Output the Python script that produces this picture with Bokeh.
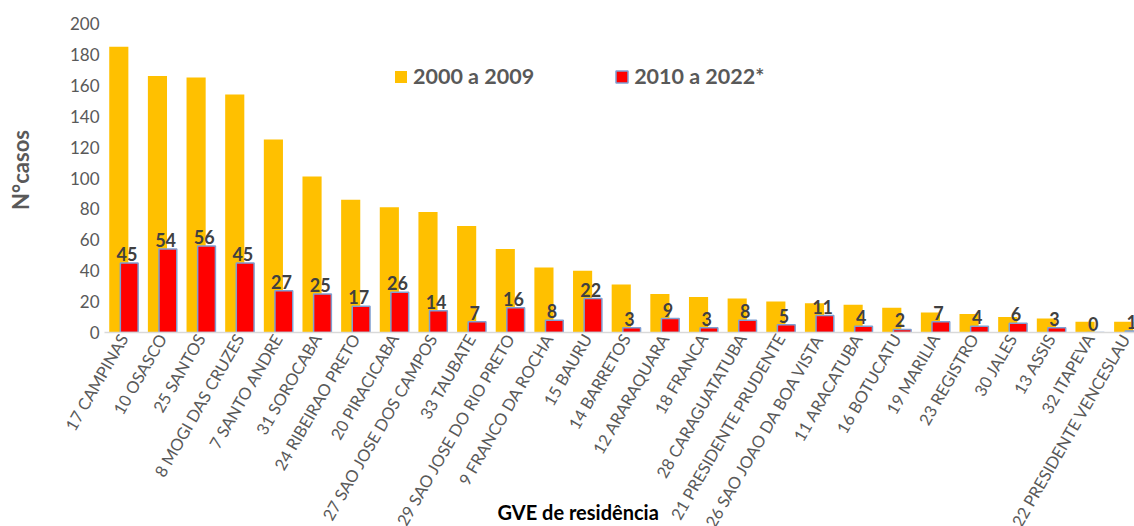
import math
from bokeh.plotting import figure
from bokeh.models import (Range1d, FixedTicker, Legend, LegendItem,
                          ColumnDataSource)
from bokeh.transform import dodge
from bokeh.embed import file_html
from bokeh.resources import INLINE

categories = [
    "17 CAMPINAS", "10 OSASCO", "25 SANTOS", "8 MOGI DAS CRUZES", "7 SANTO ANDRE",
    "31 SOROCABA", "24 RIBEIRAO PRETO", "20 PIRACICABA", "27 SAO JOSE DOS CAMPOS",
    "33 TAUBATE", "29 SAO JOSE DO RIO PRETO", "9 FRANCO DA ROCHA", "15 BAURU",
    "14 BARRETOS", "12 ARARAQUARA", "18 FRANCA", "28 CARAGUATATUBA",
    "21 PRESIDENTE PRUDENTE", "26 SAO JOAO DA BOA VISTA", "11 ARACATUBA",
    "16 BOTUCATU", "19 MARILIA", "23 REGISTRO", "30 JALES", "13 ASSIS",
    "32 ITAPEVA", "22 PRESIDENTE VENCESLAU",
]
v_2000_2009 = [185, 166, 165, 154, 125, 101, 86, 81, 78, 69, 54, 42, 40, 31, 25,
               23, 22, 20, 19, 18, 16, 13, 12, 10, 9, 7, 7]
v_2010_2022 = [45, 54, 56, 45, 27, 25, 17, 26, 14, 7, 16, 8, 22, 3, 9, 3, 8, 5,
               11, 4, 2, 7, 4, 6, 3, 0, 1]
y_ticks = [0, 20, 40, 60, 80, 100, 120, 140, 160, 180, 200]
series_names = ["2000 a 2009", "2010 a 2022*"]
x_title = "GVE de residência"
y_title = "N°casos"

xs = [i + 0.5 for i in range(len(categories))]
src = ColumnDataSource(dict(x=xs, a=v_2000_2009, b=v_2010_2022,
                            lbl=[str(v) for v in v_2010_2022]))

p = figure(width=1134, height=526, output_backend="svg", toolbar_location=None,
           x_range=Range1d(0, 26.65), y_range=Range1d(0, 200),
           min_border_left=104, min_border_right=0, min_border_top=23,
           min_border_bottom=192)
p.outline_line_color = None
p.xgrid.visible = False
p.ygrid.visible = False
p.background_fill_color = "white"

r1 = p.vbar(x=dodge("x", -0.13, range=p.x_range), top="a", width=0.495,
            fill_color="#FFC000", line_color=None, source=src)
r2 = p.vbar(x=dodge("x", 0.14, range=p.x_range), top="b", width=0.46,
            fill_color="#FF0000", line_color="#7f9fd2", line_width=1.5, source=src)

p.text(x=dodge("x", 0.08, range=p.x_range), y="b", text="lbl", source=src,
       text_align="center", text_baseline="alphabetic", y_offset=-9,
       text_font={"value": "Lato"}, text_font_style="bold",
       text_font_size="18px", text_color="#404040")

xa = p.xaxis[0]
xa.ticker = FixedTicker(ticks=xs)
xa.major_label_overrides = {x: c for x, c in zip(xs, categories)}
xa.major_label_orientation = 60 * math.pi / 180
xa.major_label_text_font = "Lato"
xa.major_label_text_font_size = "16.5px"
xa.major_label_text_color = "#595959"
xa.major_label_text_line_height = 1.0
xa.major_label_standoff = 3
xa.major_tick_out = 0
xa.major_tick_in = 0
xa.minor_tick_out = 0
xa.minor_tick_in = 0
xa.axis_line_color = "#d9d9d9"
xa.axis_line_width = 1.5
xa.major_tick_line_color = None
xa.minor_tick_line_color = None
xa.axis_label = x_title + "\u00a0" * 17
xa.axis_label_text_font = "Lato"
xa.axis_label_text_font_style = "bold"
xa.axis_label_text_font_size = "20px"
xa.axis_label_text_color = "black"
xa.axis_label_standoff = -39

ya = p.yaxis[0]
ya.ticker = FixedTicker(ticks=y_ticks)
ya.major_label_text_font = "Lato"
ya.major_label_text_font_size = "17px"
ya.major_label_text_color = "#595959"
ya.major_label_standoff = 5
ya.major_tick_out = 0
ya.minor_tick_out = 0
ya.axis_line_color = None
ya.major_tick_line_color = None
ya.minor_tick_line_color = None
ya.axis_label = "\u00a0" * 3 + y_title
ya.axis_label_text_font = "Lato"
ya.axis_label_text_font_style = "bold"
ya.axis_label_text_font_size = "22px"
ya.axis_label_text_color = "#595959"
ya.axis_label_standoff = 33

legend = Legend(items=[LegendItem(label=series_names[0], renderers=[r1]),
                       LegendItem(label=series_names[1], renderers=[r2])],
                orientation="horizontal", location=(289, 243),
                glyph_width=15, glyph_height=15, label_standoff=5, spacing=80,
                padding=0, margin=0, border_line_color=None,
                background_fill_alpha=0,
                label_text_font="Lato", label_text_font_style="bold",
                label_text_font_size="21.5px", label_text_color="#595959")
p.add_layout(legend, "center")

open("out.html", "w").write(file_html(p, INLINE))
